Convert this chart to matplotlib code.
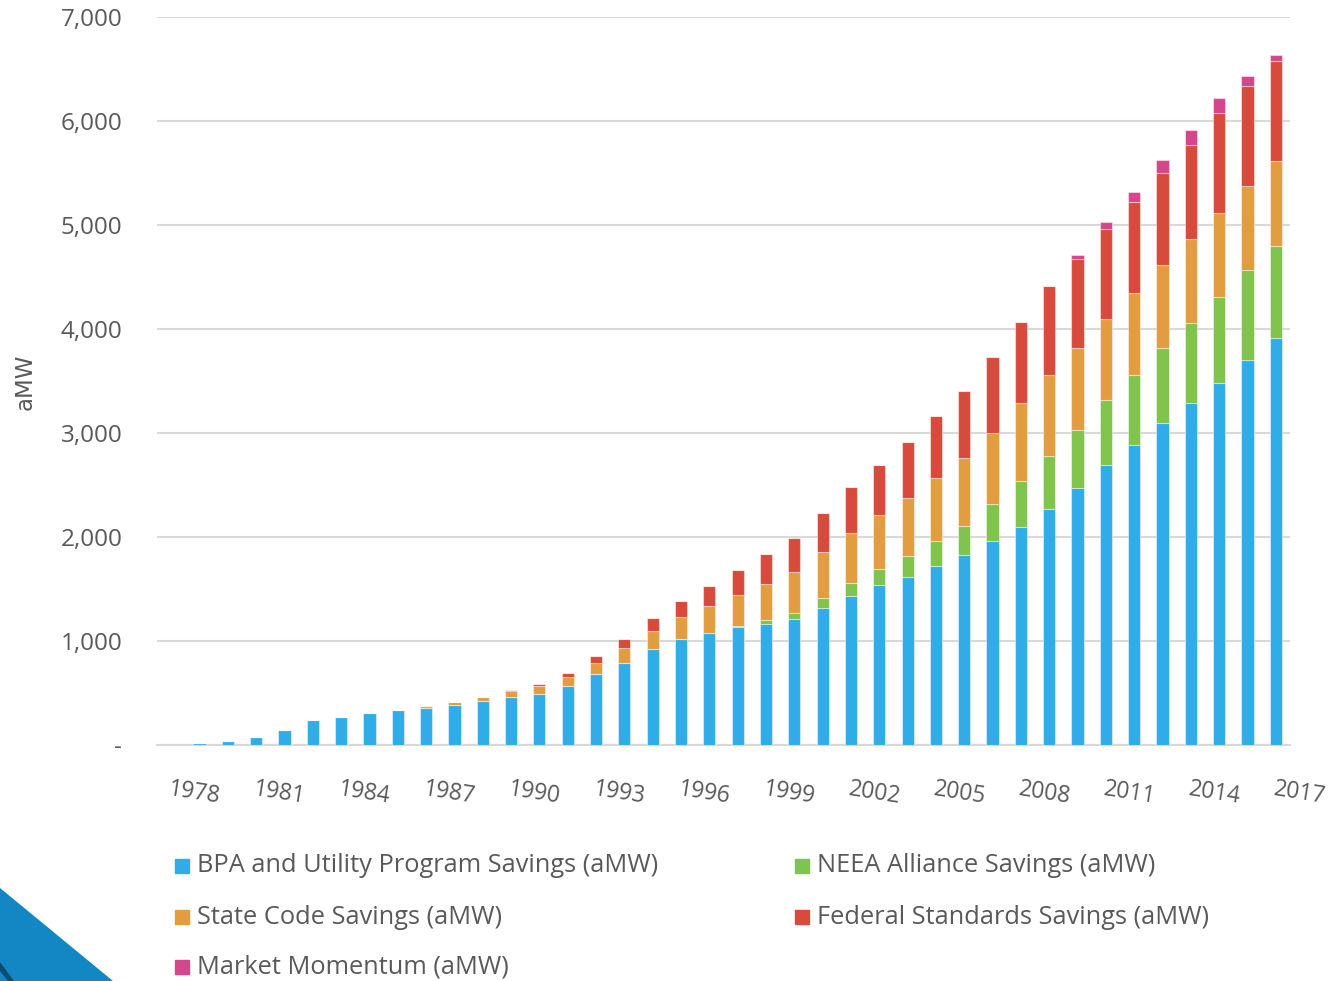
import matplotlib
matplotlib.use("Agg")
import matplotlib.pyplot as plt
from matplotlib.patches import Polygon, Rectangle
import numpy as np

years = list(range(1978, 2018))

bpa_utility = [0, 15, 42, 77, 144, 237, 272, 304, 333, 352,
               385, 423, 462, 490, 564, 682, 792, 926, 1022, 1080,
               1135, 1163, 1212, 1321, 1433, 1535, 1619, 1724, 1826, 1958,
               2098, 2265, 2473, 2697, 2886, 3095, 3284, 3481, 3702, 3916]
neea_alliance = [0, 0, 0, 0, 0, 0, 0, 0, 0, 0,
                 0, 0, 0, 0, 0, 0, 0, 0, 0, 0,
                 9, 42, 57, 92, 128, 157, 202, 238, 282, 359,
                 445, 512, 559, 616, 669, 725, 777, 822, 861, 884]
state_code = [0, 0, 0, 0, 0, 0, 0, 0, 0, 19,
              25, 41, 54, 74, 90, 110, 137, 170, 206, 253,
              295, 343, 394, 440, 474, 516, 557, 602, 650, 687,
              742, 784, 782, 779, 788, 791, 800, 810, 810, 813]
federal_standards = [0, 0, 0, 0, 0, 0, 0, 0, 0, 0,
                     0, 0, 13, 23, 41, 62, 90, 122, 157, 193,
                     240, 285, 331, 378, 443, 484, 535, 596, 646, 722,
                     785, 855, 862, 874, 880, 890, 907, 964, 960, 964]
market_momentum = [0, 0, 0, 0, 0, 0, 0, 0, 0, 0,
                   0, 0, 0, 0, 0, 0, 0, 0, 0, 0,
                   0, 0, 0, 0, 0, 0, 0, 0, 0, 0,
                   0, 0, 32, 64, 90, 122, 147, 147, 100, 57]

series_names = ["BPA and Utility Program Savings (aMW)",
                "NEEA Alliance Savings (aMW)",
                "State Code Savings (aMW)",
                "Federal Standards Savings (aMW)",
                "Market Momentum (aMW)"]
series_colors = ["#30ACE9", "#80C34D", "#E29D40", "#D84A3B", "#D6468A"]

y_ticks = [0, 1000, 2000, 3000, 4000, 5000, 6000, 7000]
y_tick_labels = ["-", "1,000", "2,000", "3,000", "4,000", "5,000", "6,000", "7,000"]

text_color = "#595959"
font_main = ["Open Sans", "DejaVu Sans"]

fig = plt.figure(figsize=(13.35, 9.81), dpi=100)
ax = fig.add_axes([157 / 1335, (981 - 745) / 981, 1133 / 1335, 728 / 981])

x = np.arange(len(years))
bottom = np.zeros(len(years))
series = [bpa_utility, neea_alliance, state_code, federal_standards, market_momentum]
for vals, color in zip(series, series_colors):
    vals = np.array(vals, dtype=float)
    ax.bar(x, vals, width=0.43, bottom=bottom, color=color,
           edgecolor=(1, 1, 1, 0.45), linewidth=0.8, zorder=3)
    bottom += vals

ax.set_xlim(-0.5, len(years) - 0.5)
ax.set_ylim(0, 7000)
ax.set_yticks(y_ticks)
ax.set_yticklabels(y_tick_labels, family=font_main, fontsize=17.5, color=text_color)
ax.tick_params(axis="y", length=0, pad=25)
ax.yaxis.grid(True, color="#D9D9D9", linewidth=1.5, zorder=0)
ax.set_axisbelow(True)

tick_idx = x[::3]
ax.set_xticks(tick_idx)
ax.set_xticklabels([str(years[i]) for i in tick_idx], family=font_main, fontsize=16.5,
                   color=text_color, rotation=-9, ha="left", va="top",
                   rotation_mode="anchor")
ax.tick_params(axis="x", length=0, pad=23)

for side in ["top", "right", "left"]:
    ax.spines[side].set_visible(False)
ax.spines["bottom"].set_color("#D9D9D9")
ax.spines["bottom"].set_linewidth(1.5)

fig.text(25 / 1335, 1 - 382 / 981, "aMW", rotation=90, ha="center", va="center",
         fontsize=16.5, color=text_color,
         family=["Liberation Sans Narrow", "DejaVu Sans"])

# Legend laid out in two columns below the plot
legend_slots = [(175, 866), (795, 866), (175, 917), (795, 917), (175, 967)]
for (px, py), name, color in zip(legend_slots, series_names, series_colors):
    fig.add_artist(Rectangle((px / 1335, 1 - (py + 7) / 981), 14 / 1335, 14 / 981,
                             transform=fig.transFigure, color=color))
    fig.text((px + 22) / 1335, 1 - py / 981, name, ha="left", va="center",
             fontsize=18.3, color=text_color, family=font_main)

# Slide corner accent
fig.add_artist(Polygon([(0, 1 - 888 / 981), (113 / 1335, 0), (0, 0)],
                       closed=True, transform=fig.transFigure,
                       facecolor="#1287C3", edgecolor="none"))
fig.add_artist(Polygon([(0, 1 - 962 / 981), (14 / 1335, 0), (8 / 1335, 0), (0, 1 - 971 / 981)],
                       closed=True, transform=fig.transFigure,
                       facecolor="#0E4D73", edgecolor="none"))

fig.savefig("out.png", dpi=100)
